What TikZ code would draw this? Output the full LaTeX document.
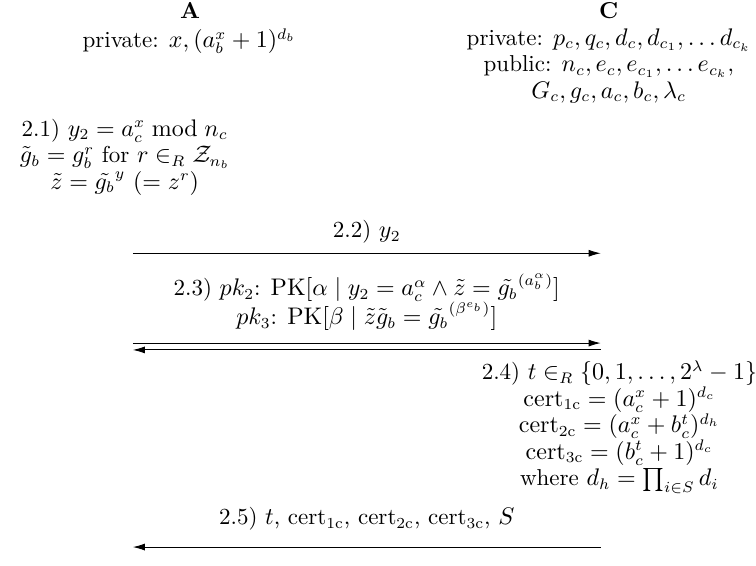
\documentclass[tikz,border=0pt]{standalone}
\usepackage{amsmath,amssymb}
\usetikzlibrary{arrows.meta,positioning}
\newcommand{\diagfont}{\fontsize{10.5}{12.1}\selectfont\lineskiplimit=-3pt\relax}
\tikzset{
  party/.style={font=\diagfont\bfseries, anchor=base, inner sep=0pt},
  step text/.style={font=\diagfont, align=center, anchor=north, inner sep=0pt},
  msg/.style={-{Latex[length=5.5pt,width=3.2pt]}}
}
\begin{document}
\begin{tikzpicture}[font=\diagfont]
\useasboundingbox (0,0) rectangle (12.12,-9.06);
% Parties and their keys
\node[party] (A) at (3.05,-0.30) {A};
\node[step text] (Akeys) at (3.03,-0.45) {private: $x, (a_b^x+1)^{d_b}$};
\node[party] (C) at (9.76,-0.30) {C};
\node[step text] (Ckeys) at (9.76,-0.45) {private: $p_c, q_c, d_c, d_{c_1}, \ldots d_{c_k}$\\
  public: $n_c, e_c, e_{c_1}, \ldots e_{c_k}$,\\
  $G_c, g_c, a_c, b_c, \lambda_c$};
% Step 2.1 at A
\node[step text] (s21) at (2.00,-1.90) {2.1) $y_2 = a_c^x \bmod n_c$\\
  $\tilde{g}_b = g_b^r$ for $r \in_R \mathcal{Z}_{n_b}$\\
  $\tilde{z} = \tilde{g_b}^{y}$ $(= z^r)$};
% Message ends
\coordinate (a22) at (2.13,-4.06);  \coordinate (c22) at (9.63,-4.06);
\coordinate (a23) at (2.13,-5.50);  \coordinate (c23) at (9.63,-5.50);
\coordinate (a23r) at (2.13,-5.61); \coordinate (c23r) at (9.63,-5.61);
\coordinate (a25) at (2.13,-8.77);  \coordinate (c25) at (9.63,-8.77);
% 2.2
\draw[msg] (a22) -- node[above=1pt] (l22) {2.2) $y_2$} (c22);
% 2.3 proofs, back and forth
\node[step text] (l23) at (5.88,-4.38) {2.3) $pk_2$: $\mathrm{PK}[\alpha \mid y_2 = a_c^{\alpha} \wedge \tilde{z} = \tilde{g_b}^{(a_b^{\alpha})}]$\\[1pt]
  $pk_3$: $\mathrm{PK}[\beta \mid \tilde{z}\tilde{g}_b = \tilde{g_b}^{(\beta^{e_b})}]$};
\draw[msg] (a23) -- (c23);
\draw[msg] (c23r) -- (a23r);
% Step 2.4 at C
\node[step text] (s24) at (9.93,-5.77) {2.4) $t \in_R \{0,1,\ldots,2^{\lambda}-1\}$\\
  $\mathrm{cert}_{\mathrm{1c}} = (a_c^x+1)^{d_c}$\\
  $\mathrm{cert}_{\mathrm{2c}} = (a_c^x+b_c^t)^{d_h}$\\
  $\mathrm{cert}_{\mathrm{3c}} = (b_c^t+1)^{d_c}$\\
  where $d_h = \prod_{i \in S} d_i$};
% 2.5
\draw[msg] (c25) -- node[above=4pt] (l25) {2.5) $t$, cert$_{\mathrm{1c}}$, cert$_{\mathrm{2c}}$, cert$_{\mathrm{3c}}$, $S$} (a25);
\end{tikzpicture}
\end{document}
